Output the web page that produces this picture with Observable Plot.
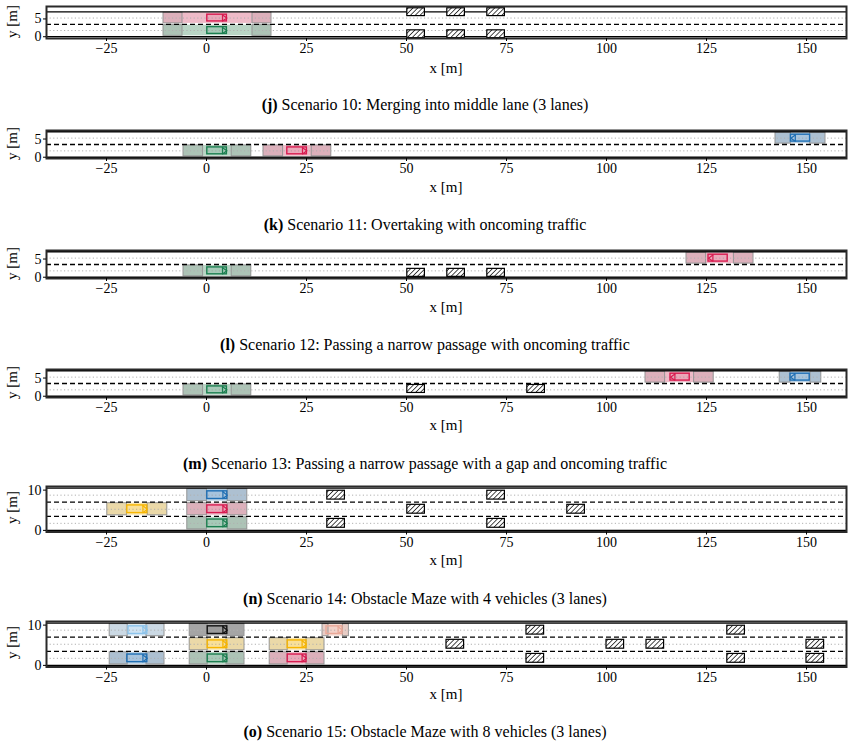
<!DOCTYPE html>
<html><head><meta charset="utf-8">
<script src="https://cdn.jsdelivr.net/npm/d3@7"></script>
<script src="https://cdn.jsdelivr.net/npm/@observablehq/plot@0.6"></script>
<style>
body{margin:0;background:#fff;}
#root{position:relative;width:850px;height:746px;font-family:"Liberation Serif",serif;color:#000;}
.panel{position:absolute;left:0;}
.cap{position:absolute;left:0;width:850px;text-align:center;font-size:16px;line-height:16px;white-space:nowrap;}
.xl{position:absolute;left:0;width:892px;text-align:center;font-size:15px;line-height:15px;}
.yl{position:absolute;left:-8px;width:40px;text-align:center;font-size:15px;line-height:15px;transform:rotate(-90deg);}
</style></head><body>
<svg width="0" height="0" style="position:absolute"><defs>
<pattern id="hatch" patternUnits="userSpaceOnUse" width="3.4" height="3.4" patternTransform="rotate(45)">
<rect width="3.4" height="3.4" fill="white"/><line x1="0" y1="0" x2="0" y2="3.4" stroke="black" stroke-width="1.4"/></pattern>
</defs></svg>
<div id="root"></div>
<script>
// ---------- data ----------
const xTicks = [-25, 0, 25, 50, 75, 100, 125, 150];
const laneWidth = 3.5;
const captions = [
  ["(j)", "Scenario 10: Merging into middle lane (3 lanes)"],
  ["(k)", "Scenario 11: Overtaking with oncoming traffic"],
  ["(l)", "Scenario 12: Passing a narrow passage with oncoming traffic"],
  ["(m)", "Scenario 13: Passing a narrow passage with a gap and oncoming traffic"],
  ["(n)", "Scenario 14: Obstacle Maze with 4 vehicles (3 lanes)"],
  ["(o)", "Scenario 15: Obstacle Maze with 8 vehicles (3 lanes)"]
];
// colour name -> [vehicle stroke, region fill, end-box fill]
const palette = {
  green: ["#1b7f50", "#b9d5c5", "#adc3b6"],
  pink: ["#d81b50", "#eebbc8", "#dcb0bb"],
  blue: ["#1f6fb4", "#bad1e4", "#adc0d1"],
  yellow: ["#f7b500", "#fae6ad", "#ebd9a8"],
  lightblue: ["#8cc4ec", "#d8e8f4", "#cbd9e4"],
  gray: ["#111111", "#b0b0b0", "#a5a5a5"],
  salmon: ["#eaa898", "#f5d9d1", "#e8cdc6"]
};
// vehicles: colour, lane index, car x-start, car x-end, heading (+1 right, -1 left), region start, region end, end-box length
const vehiclesJ = [
  {c: "pink", lane: 1, x1: 0.2, x2: 5.1, dir: 1, r0: -10.75, r1: 16.25, e: 4.75},
  {c: "green", lane: 0, x1: 0.2, x2: 5.1, dir: 1, r0: -10.75, r1: 16.25, e: 4.75}
];
const vehiclesK = [
  {c: "green", lane: 0, x1: 0.2, x2: 5.1, dir: 1, r0: -5.75, r1: 11.2, e: 4.9},
  {c: "pink", lane: 0, x1: 20.2, x2: 25.1, dir: 1, r0: 14.25, r1: 31.2, e: 4.9},
  {c: "blue", lane: 1, x1: 146.1, x2: 150.9, dir: -1, r0: 142.25, r1: 154.75, e: 3.85}
];
const vehiclesL = [
  {c: "green", lane: 0, x1: 0.2, x2: 5.1, dir: 1, r0: -5.75, r1: 11.2, e: 4.9},
  {c: "pink", lane: 1, x1: 125.5, x2: 130.3, dir: -1, r0: 120, r1: 136.75, e: 4.9}
];
const vehiclesM = [
  {c: "green", lane: 0, x1: 0.2, x2: 5.1, dir: 1, r0: -5.75, r1: 11.2, e: 4.9},
  {c: "pink", lane: 1, x1: 116, x2: 120.8, dir: -1, r0: 109.75, r1: 126.8, e: 4.9},
  {c: "blue", lane: 1, x1: 146, x2: 150.8, dir: -1, r0: 143.3, r1: 153.7, e: 2.7}
];
const vehiclesN = [
  {c: "blue", lane: 2, x1: 0.2, x2: 5.2, dir: 1, r0: -4.8, r1: 10.2, e: 4.9},
  {c: "pink", lane: 1, x1: 0.2, x2: 5.2, dir: 1, r0: -4.8, r1: 10.2, e: 4.9},
  {c: "green", lane: 0, x1: 0.2, x2: 5.2, dir: 1, r0: -4.8, r1: 10.2, e: 4.9},
  {c: "yellow", lane: 1, x1: -19.8, x2: -14.8, dir: 1, r0: -24.8, r1: -9.8, e: 4.9}
];
const vehiclesO = [
  {c: "lightblue", lane: 2, x1: -19.5, x2: -14.8, dir: 1, r0: -24.2, r1: -10.5, e: 4.5},
  {c: "blue", lane: 0, x1: -19.8, x2: -14.8, dir: 1, r0: -24.2, r1: -10.5, e: 4.5},
  {c: "gray", lane: 2, x1: 0.3, x2: 5.2, dir: 1, r0: -4.2, r1: 9.5, e: 4.5},
  {c: "yellow", lane: 1, x1: 0.3, x2: 5.2, dir: 1, r0: -4.2, r1: 9.5, e: 4.5},
  {c: "green", lane: 0, x1: 0.3, x2: 5.2, dir: 1, r0: -4.2, r1: 9.5, e: 4.5},
  {c: "yellow", lane: 1, x1: 20.3, x2: 25, dir: 1, r0: 15.8, r1: 29.5, e: 4.5},
  {c: "pink", lane: 0, x1: 20.3, x2: 25, dir: 1, r0: 15.8, r1: 29.5, e: 4.5},
  {c: "salmon", lane: 2, x1: 30, x2: 34, dir: 1, r0: 29, r1: 35.6, e: 1.5}
];
// obstacles: x-start, y-centre
const obstaclesJ = [
  {x: 50.2, y: 6.9}, {x: 60.2, y: 6.9}, {x: 70.2, y: 6.9},
  {x: 50.2, y: 0.7}, {x: 60.2, y: 0.7}, {x: 70.2, y: 0.7}
];
const obstaclesK = [];
const obstaclesL = [{x: 50.2, y: 1.2}, {x: 60.2, y: 1.2}, {x: 70.2, y: 1.2}];
const obstaclesM = [{x: 50.2, y: 2.0}, {x: 80.2, y: 2.0}];
const obstaclesN = [
  {x: 30.2, y: 8.75}, {x: 70.2, y: 8.75},
  {x: 50.2, y: 5.25}, {x: 90.2, y: 5.25},
  {x: 30.2, y: 1.75}, {x: 70.2, y: 1.75}
];
const obstaclesO = [
  {x: 80, y: 8.75}, {x: 130.2, y: 8.75},
  {x: 60, y: 5.25}, {x: 100, y: 5.25}, {x: 110, y: 5.25}, {x: 150, y: 5.25},
  {x: 80, y: 1.75}, {x: 130.2, y: 1.75}, {x: 150, y: 1.75}
];
// panel layout: pixel top/bottom of the plotting frame, y-domain, lanes, y ticks
const panels = [
  {top: 6, bottom: 38, yDomain: [-0.5, 8.5], lanes: 2, yTicks: [0, 5], veh: vehiclesJ, obs: obstaclesJ, xl: 61, cap: 97},
  {top: 129.5, bottom: 157.5, yDomain: [-0.35, 7.35], lanes: 2, yTicks: [0, 5], veh: vehiclesK, obs: obstaclesK, xl: 180, cap: 217},
  {top: 249.5, bottom: 277.5, yDomain: [-0.35, 7.35], lanes: 2, yTicks: [0, 5], veh: vehiclesL, obs: obstaclesL, xl: 300, cap: 337},
  {top: 368.5, bottom: 396.5, yDomain: [-0.35, 7.35], lanes: 2, yTicks: [0, 5], veh: vehiclesM, obs: obstaclesM, xl: 418, cap: 456},
  {top: 485.5, bottom: 531, yDomain: [-0.4, 10.9], lanes: 3, yTicks: [0, 10], veh: vehiclesN, obs: obstaclesN, xl: 553, cap: 591},
  {top: 620.5, bottom: 666, yDomain: [-0.4, 10.9], lanes: 3, yTicks: [0, 10], veh: vehiclesO, obs: obstaclesO, xl: 687, cap: 724}
];

// ---------- drawing ----------
const root = document.getElementById("root");
const fmt = d => (d < 0 ? "\u2212" : "") + Math.abs(d);

panels.forEach((p, i) => {
  const mt = 4, mb = 22;
  const nl = p.lanes;
  const centers = d3.range(nl).map(k => (k + 0.5) * laneWidth);
  const dividers = d3.range(1, nl).map(k => k * laneWidth);
  const bounds = [0, nl * laneWidth];
  const regionMid = p.veh.map(v => ({...v, y: centers[v.lane]}));
  const endBoxes = regionMid.flatMap(v => [
    {...v, a: v.r0, b: v.r0 + v.e},
    {...v, a: v.r1 - v.e, b: v.r1}
  ]);
  const arrows = regionMid.map(v => {
    const tip = v.dir > 0 ? v.x2 : v.x1;
    const base = tip - v.dir * 1.1;
    return [
      {x: base, y: v.y + 0.85, c: v.c}, {x: tip, y: v.y, c: v.c}, {x: base, y: v.y - 0.85, c: v.c}
    ];
  });
  const bars = regionMid.map(v => {
    const tip = v.dir > 0 ? v.x2 : v.x1;
    return {x: tip - v.dir * 1.1, y1: v.y - 0.95, y2: v.y + 0.95, c: v.c};
  });
  const chart = Plot.plot({
    width: 850,
    height: (p.bottom - p.top) + mt + mb,
    marginLeft: 46, marginRight: 4, marginTop: mt, marginBottom: mb,
    style: {fontFamily: "Liberation Serif, serif", fontSize: "14px", background: "white", overflow: "visible"},
    x: {domain: [-40, 160]},
    y: {domain: p.yDomain},
    marks: [
      Plot.rect(regionMid, {x1: "r0", x2: "r1", y1: d => d.y - 1.5, y2: d => d.y + 1.5, fill: d => palette[d.c][1]}),
      Plot.rect(endBoxes, {x1: "a", x2: "b", y1: d => d.y - 1.5, y2: d => d.y + 1.5, fill: d => palette[d.c][2], stroke: "#969696", strokeWidth: 1}),
      Plot.ruleY(centers, {stroke: "#b0b0b0", strokeWidth: 1, strokeDasharray: "1.2,2.4"}),
      Plot.ruleY(dividers, {stroke: "black", strokeWidth: 1.3, strokeDasharray: "5,3"}),
      Plot.ruleY(bounds, {stroke: "black", strokeWidth: 1.3}),
      Plot.rect(p.obs, {x1: "x", x2: d => d.x + 4.4, y1: d => d.y - 1.1, y2: d => d.y + 1.1, fill: "url(#hatch)", stroke: "black", strokeWidth: 1.2}),
      Plot.rect(regionMid, {x1: "x1", x2: "x2", y1: d => d.y - 0.95, y2: d => d.y + 0.95, fill: d => palette[d.c][0], fillOpacity: 0.12, stroke: d => palette[d.c][0], strokeWidth: 1.4}),
      Plot.ruleX(bars, {x: "x", y1: "y1", y2: "y2", stroke: d => palette[d.c][0], strokeWidth: 1.2}),
      ...arrows.map(a => Plot.line(a, {x: "x", y: "y", stroke: palette[a[0].c][0], strokeWidth: 1.2})),
      Plot.frame({stroke: "#2a2a2a", strokeWidth: 2}),
      Plot.axisX({ticks: xTicks, tickFormat: fmt, tickSize: 3, tickPadding: 2, label: null}),
      Plot.axisY({ticks: p.yTicks, tickFormat: fmt, tickSize: 3, tickPadding: 2, label: null})
    ]
  });
  chart.classList.add("panel");
  chart.style.top = (p.top - mt) + "px";
  root.appendChild(chart);

  const xl = document.createElement("div");
  xl.className = "xl"; xl.style.top = p.xl + "px"; xl.textContent = "x [m]";
  root.appendChild(xl);
  const yl = document.createElement("div");
  yl.className = "yl"; yl.style.top = ((p.top + p.bottom) / 2 - 8) + "px"; yl.textContent = "y [m]";
  root.appendChild(yl);
  const cap = document.createElement("div");
  cap.className = "cap"; cap.style.top = p.cap + "px";
  const b = document.createElement("b"); b.textContent = captions[i][0];
  cap.appendChild(b); cap.appendChild(document.createTextNode(" " + captions[i][1]));
  root.appendChild(cap);
});
</script>
</body></html>
